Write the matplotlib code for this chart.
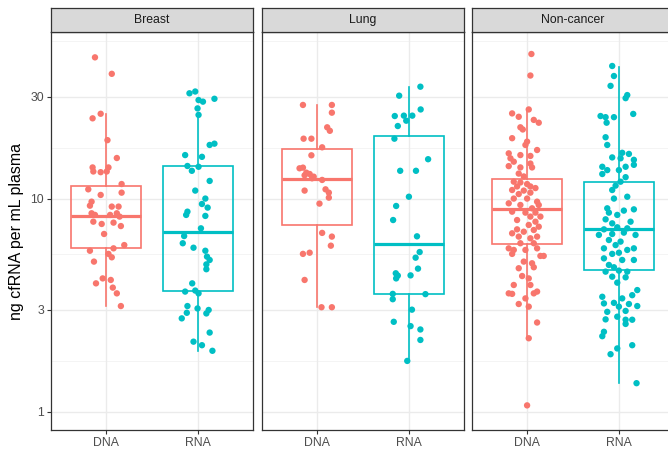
import matplotlib
matplotlib.use('Agg')
import matplotlib.pyplot as plt
import numpy as np

plt.rcParams['font.family'] = ['Liberation Sans', 'DejaVu Sans']

facets = ['Breast', 'Lung', 'Non-cancer']
groups = ['DNA', 'RNA']
colors = {'DNA': '#F8766D', 'RNA': '#00BFC4'}
y_ticks = [1, 3, 10, 30]
y_tick_labels = ['1', '3', '10', '30']
y_label = 'ng cfRNA per mL plasma'

# ---- Breast ----
breast_dna = [46.0, 38.5, 23.8, 25.0, 18.8, 15.5, 14.0, 13.4, 13.3, 14.0,
              13.4, 11.7, 11.05, 10.66, 10.4, 9.67, 9.26, 9.17, 9.17, 8.53,
              8.38, 8.38, 8.53, 8.23, 7.79, 7.60, 7.71, 7.43, 6.82, 6.05,
              5.69, 5.84, 5.50, 5.30, 5.06, 4.22, 4.15, 4.00, 3.82, 3.59, 3.13]
breast_dna_jit = [-0.121, 0.062, -0.147, -0.059, 0.015, 0.117, -0.147, -0.139, -0.059, 0.026,
                  0.007, 0.169, -0.194, 0.169, -0.059, -0.158, -0.176, 0.062, 0.136, -0.158,
                  -0.121, 0.044, 0.117, 0.147, -0.139, -0.048, 0.081, 0.161, -0.022, 0.198,
                  -0.176, 0.081, 0.026, 0.062, -0.132, -0.037, 0.051, -0.110, 0.073, 0.117, 0.161]
breast_rna = [31.2, 31.8, 29.0, 28.5, 29.4, 26.5, 24.7, 17.85, 18.1, 16.0,
              15.7, 14.22, 13.5, 14.1, 12.1, 10.9, 10.0, 9.43, 9.07, 8.68,
              8.38, 8.29, 7.25, 6.67, 6.17, 5.88, 5.69, 5.34, 5.15, 4.91,
              4.66, 4.00, 3.66, 3.70, 3.59, 3.13, 3.05, 3.00, 2.89, 2.91,
              2.74, 2.35, 2.13, 2.05, 1.93]
breast_rna_jit = [-0.092, -0.029, 0.007, 0.055, 0.180, -0.004, 0.007, 0.128, 0.180, -0.139,
                  0.044, -0.114, -0.066, 0.007, 0.128, -0.029, 0.081, 0.044, 0.106, -0.114,
                  -0.128, 0.081, 0.033, -0.150, -0.165, -0.048, 0.081, 0.099, 0.128, 0.092,
                  0.092, -0.062, -0.139, -0.029, 0.007, -0.114, -0.004, 0.117, 0.092, -0.121,
                  -0.176, 0.128, -0.048, 0.044, 0.158]

# ---- Lung ----
lung_dna = [27.5, 27.5, 25.3, 21.6, 20.8, 19.1, 19.1, 17.4, 15.96, 13.87,
            13.97, 12.86, 13.04, 12.45, 12.23, 11.05, 10.9, 10.66, 10.1, 9.47,
            6.90, 6.63, 6.01, 5.50, 5.57, 4.15, 3.09, 3.09, 13.23, 12.67]
lung_dna_jit = [-0.154, 0.161, 0.161, 0.110, 0.139, -0.147, -0.062, 0.055, -0.062, -0.191,
                -0.154, -0.136, -0.081, -0.055, 0.055, 0.092, -0.136, 0.128, 0.128, 0.026,
                0.055, 0.161, 0.150, -0.154, -0.081, -0.136, 0.048, 0.161, -0.117, -0.037]
lung_rna = [33.5, 30.4, 26.2, 24.4, 24.5, 24.5, 23.2, 21.9, 19.1, 15.3,
            13.5, 13.5, 10.2, 9.23, 7.93, 6.65, 5.61, 5.28, 4.69, 4.46,
            4.35, 4.22, 4.36, 3.57, 3.37, 3.56, 3.01, 2.64, 2.52, 2.43,
            2.17, 1.73]
lung_rna_jit = [0.125, -0.106, 0.128, -0.154, -0.055, 0.037, -0.029, -0.121, -0.158, 0.209,
                -0.095, 0.077, 0.0, -0.139, -0.172, 0.088, 0.117, 0.073, 0.099, -0.143,
                -0.121, -0.139, 0.018, -0.176, -0.176, 0.180, 0.033, -0.165, 0.018, 0.125,
                0.125, -0.018]

# ---- Non-cancer ----
nc_dna = [47.7, 37.8, 26.2, 25.1, 24.2, 23.4, 22.7, 21.6, 21.1, 19.2,
          18.5, 17.85, 16.9, 16.3, 16.0, 15.85, 15.45, 14.9, 14.6, 14.2,
          14.0, 14.0, 13.1, 12.7, 12.0, 11.9, 11.7, 11.4, 11.4, 11.2,
          10.97, 10.9, 10.66, 10.5, 10.0, 10.0, 9.67, 9.50, 9.33, 9.33,
          9.00, 8.68, 8.59, 8.59, 8.23, 8.23, 7.93, 7.79, 7.52, 7.38,
          7.17, 7.12, 6.87, 6.99, 6.63, 6.51, 6.63, 6.17, 6.17, 5.84,
          5.74, 5.74, 5.84, 5.50, 5.38, 5.38, 5.06, 4.97, 4.71, 4.76,
          4.33, 4.22, 3.93, 3.93, 3.59, 3.57, 3.59, 3.66, 3.40, 3.20,
          3.11, 2.62, 2.21, 1.07]
nc_dna_jit = [0.047, 0.036, 0.018, -0.163, -0.091, 0.073, 0.127, -0.073, -0.047, -0.163,
              0.0, -0.018, 0.109, -0.2, -0.073, 0.036, -0.181, -0.145, 0.036, -0.2,
              -0.073, 0.054, -0.091, -0.036, -0.145, -0.073, 0.0, -0.109, 0.036, 0.091,
              -0.163, -0.036, 0.036, -0.091, -0.145, 0.0, 0.109, -0.2, -0.073, 0.127,
              0.054, -0.163, -0.018, 0.091, 0.036, 0.145, -0.109, 0.091, 0.018, 0.127,
              -0.109, 0.073, -0.163, -0.036, -0.091, 0.036, 0.109, -0.073, 0.073, -0.2,
              -0.145, -0.018, 0.109, -0.163, 0.145, 0.181, -0.036, 0.054, -0.091, 0.073,
              -0.054, 0.018, -0.145, 0.036, -0.2, -0.163, 0.073, 0.109, -0.018, -0.091,
              0.018, 0.109, 0.018, 0.0]
nc_rna = [41.9, 37.6, 33.8, 30.6, 29.6, 24.4, 24.1, 24.1, 24.96, 22.7,
          19.4, 17.85, 16.4, 16.2, 15.6, 15.45, 15.2, 14.4, 14.1, 13.6,
          14.1, 13.6, 13.04, 12.6, 12.0, 11.5, 10.97, 10.2, 10.0, 9.00,
          8.90, 8.59, 8.38, 8.78, 7.99, 7.79, 7.65, 7.33, 7.25, 7.17,
          6.75, 6.82, 6.92, 6.75, 6.39, 6.28, 6.05, 5.84, 5.74, 5.84,
          5.57, 5.50, 5.24, 5.15, 5.15, 4.88, 4.76, 4.54, 4.59, 4.54,
          4.30, 4.27, 4.03, 3.46, 3.72, 3.52, 3.40, 3.22, 3.24, 3.20,
          3.11, 3.13, 2.94, 2.97, 2.79, 2.71, 2.70, 2.70, 2.58, 2.37,
          2.26, 1.98, 2.05, 1.86, 1.36]
nc_rna_jit = [-0.073, -0.054, -0.091, 0.091, 0.073, -0.2, -0.145, -0.054, 0.156, -0.134,
              -0.145, -0.127, 0.036, 0.109, -0.073, 0.018, 0.163, 0.163, -0.181, -0.127,
              0.073, 0.0, -0.181, 0.073, 0.018, -0.036, -0.073, 0.091, -0.054, -0.127,
              0.163, -0.109, -0.018, 0.054, -0.145, 0.127, -0.073, -0.018, 0.091, -0.163,
              -0.218, -0.073, 0.054, 0.181, -0.109, 0.018, -0.036, -0.163, 0.091, 0.163,
              0.0, -0.073, -0.163, 0.163, 0.036, -0.109, -0.054, -0.145, 0.0, 0.091,
              -0.073, 0.073, -0.018, -0.181, 0.2, 0.145, 0.036, -0.163, -0.054, 0.109,
              0.0, 0.2, -0.127, 0.073, -0.018, -0.145, 0.073, 0.145, 0.073, -0.163,
              -0.181, -0.018, 0.145, -0.091, 0.192]

# box statistics: [whislo, q1, median, q3, whishi]
box_breast_dna = [3.13, 5.88, 8.31, 11.50, 24.96]
box_breast_rna = [1.93, 3.68, 6.99, 14.22, 25.0]
box_lung_dna = [3.09, 7.49, 12.4, 17.1, 27.5]
box_lung_rna = [1.73, 3.57, 6.14, 19.7, 33.5]
box_nc_dna = [2.21, 6.10, 8.90, 12.36, 26.2]
box_nc_rna = [1.36, 4.62, 7.20, 11.92, 41.3]

data = {
    'Breast': {'DNA': (breast_dna, breast_dna_jit, box_breast_dna),
               'RNA': (breast_rna, breast_rna_jit, box_breast_rna)},
    'Lung': {'DNA': (lung_dna, lung_dna_jit, box_lung_dna),
             'RNA': (lung_rna, lung_rna_jit, box_lung_rna)},
    'Non-cancer': {'DNA': (nc_dna, nc_dna_jit, box_nc_dna),
                   'RNA': (nc_rna, nc_rna_jit, box_nc_rna)},
}

W, H = 668, 450
fig = plt.figure(figsize=(W / 100, H / 100), dpi=100)

panel_left_px = [51, 262, 472]
panel_w_px = 202
panel_bottom_px = 20
panel_h_px = 398
strip_h_px = 24.5

border_col = '#333333'
grid_col = '#EBEBEB'

minor_ticks = [np.sqrt(a * b) for a, b in zip([0.3] + y_ticks, y_ticks + [100])]

for i, facet in enumerate(facets):
    ax = fig.add_axes([panel_left_px[i] / W, panel_bottom_px / H,
                       panel_w_px / W, panel_h_px / H])
    ax.set_yscale('log')
    ax.set_xlim(0.4, 2.6)
    ax.set_ylim(0.82, 60.5)
    for t in y_ticks:
        ax.axhline(t, color=grid_col, lw=1.0, zorder=0)
    for t in minor_ticks:
        ax.axhline(t, color='#F2F2F2', lw=0.6, zorder=0)
    for x in [1, 2]:
        ax.axvline(x, color=grid_col, lw=1.0, zorder=0)

    for j, g in enumerate(groups):
        vals, jit, bs = data[facet][g]
        c = colors[g]
        stats = [{'whislo': bs[0], 'q1': bs[1], 'med': bs[2], 'q3': bs[3],
                  'whishi': bs[4], 'fliers': []}]
        ax.bxp(stats, positions=[j + 1], widths=0.76, showfliers=False,
               showcaps=False, patch_artist=True,
               boxprops=dict(facecolor='none', edgecolor=c, lw=1.2),
               medianprops=dict(color=c, lw=2.3),
               whiskerprops=dict(color=c, lw=1.2),
               manage_ticks=False)
        xs = np.array(jit) + (j + 1)
        ax.scatter(xs, vals, s=21, color=c, edgecolors='none', zorder=3)

    ax.set_xticks([1, 2])
    ax.set_xticklabels(groups, fontsize=8.8, color='#4D4D4D')
    ax.yaxis.set_minor_locator(matplotlib.ticker.NullLocator())
    ax.set_yticks(y_ticks)
    if i == 0:
        ax.set_yticklabels(y_tick_labels, fontsize=8.8, color='#4D4D4D')
        ax.set_ylabel(y_label, fontsize=11.5, color='black')
        ax.yaxis.set_label_coords(-0.135, 0.5)
        ax.tick_params(axis='y', length=3, width=0.8, color='#333333', pad=2)
    else:
        ax.set_yticklabels([])
        ax.tick_params(axis='y', length=0)
    ax.tick_params(axis='x', length=3, width=0.8, color='#333333', pad=2)
    for sp in ax.spines.values():
        sp.set_color(border_col)
        sp.set_linewidth(0.9)

    sax = fig.add_axes([panel_left_px[i] / W, (panel_bottom_px + panel_h_px) / H,
                        panel_w_px / W, strip_h_px / H])
    sax.set_facecolor('#D9D9D9')
    sax.set_xticks([])
    sax.set_yticks([])
    for sp in sax.spines.values():
        sp.set_color(border_col)
        sp.set_linewidth(0.9)
    sax.text(0.5, 0.5, facet, transform=sax.transAxes, ha='center', va='center',
             fontsize=8.8, color='#1A1A1A')

fig.savefig('out.png', dpi=100)
